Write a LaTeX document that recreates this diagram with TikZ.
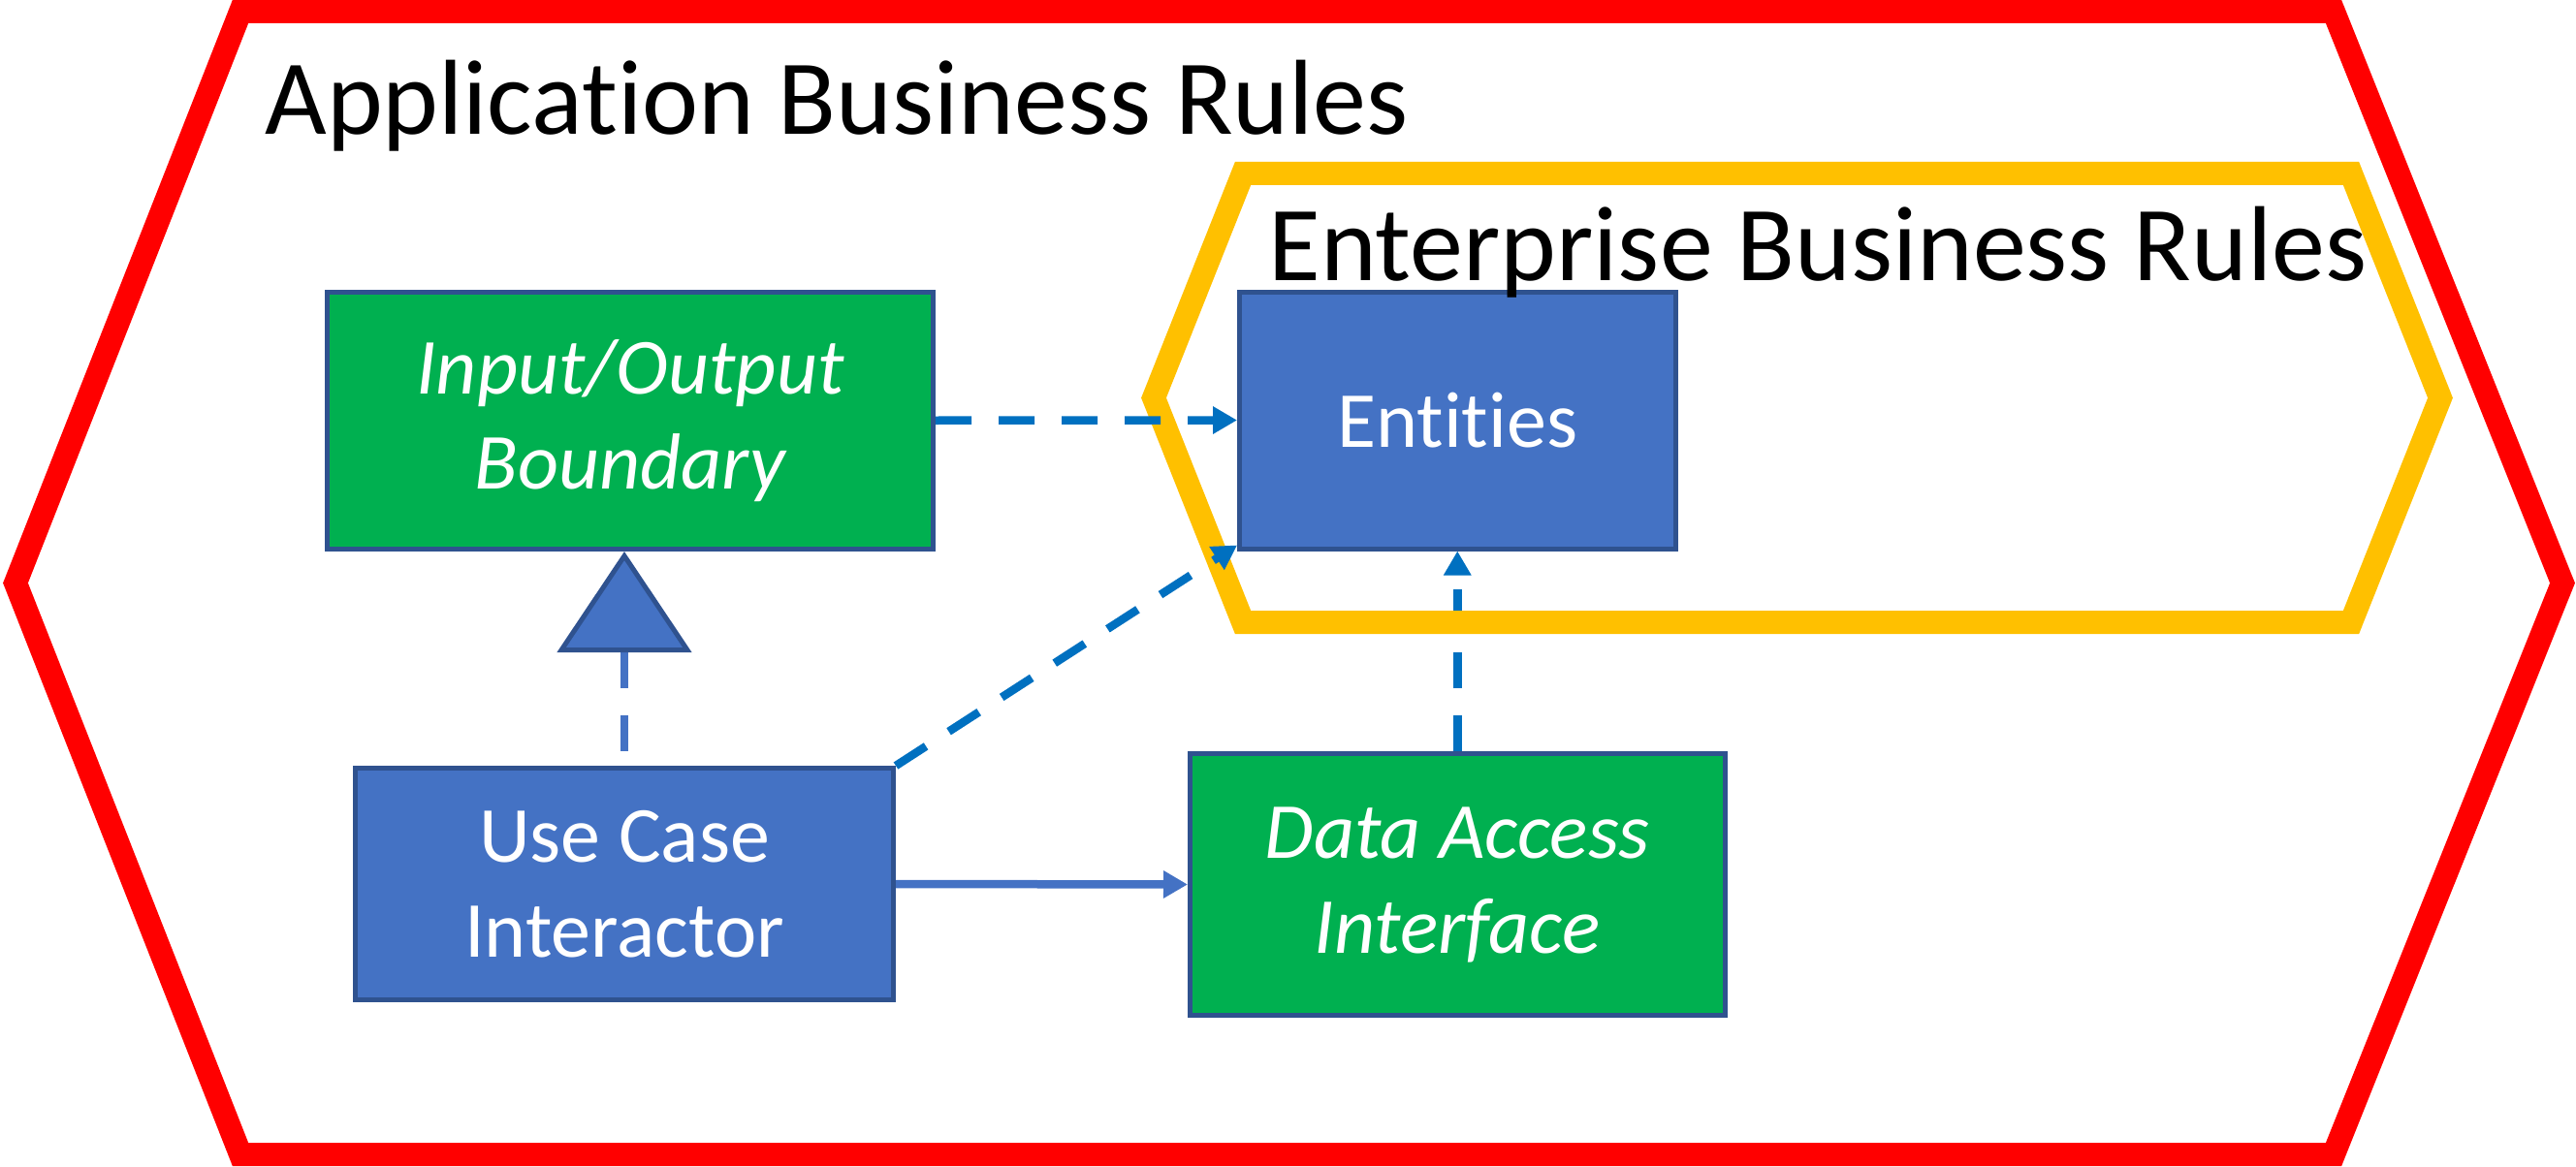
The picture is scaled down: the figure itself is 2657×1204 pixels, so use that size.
\documentclass[tikz,border=0pt]{standalone}
\usepackage{fontspec}
\setmainfont{Carlito}[Ligatures={NoCommon,NoContextual}]
\usetikzlibrary{arrows.meta}
\definecolor{hexred}{HTML}{FF0000}
\definecolor{hexyel}{HTML}{FFC000}
\definecolor{boxgreen}{HTML}{00B050}
\definecolor{boxblue}{HTML}{4472C4}
\definecolor{boxborder}{HTML}{2F528F}
\definecolor{arrblue}{HTML}{0070C0}
\begin{document}
\begin{tikzpicture}[x=0.5pt,y=-0.5pt,
  box/.style={draw=boxborder, line width=2.5pt, inner sep=0pt, align=center, text=white, font=\fontsize{41}{49}\selectfont},
  boxit/.style={box, font=\fontsize{41}{49}\selectfont\itshape},
  title/.style={anchor=base west, inner sep=0pt, text=black, font=\fontsize{55}{66}\selectfont},
  hexline/.style={line width=12pt, line join=miter},
  dasharrow/.style={draw=arrblue, line width=4.25pt, dash pattern=on 18.5pt off 14pt, -{Triangle[length=12.5pt,width=13.5pt]}},
  solidarrow/.style={draw=boxblue, line width=4.25pt, -{Triangle[length=12.5pt,width=13.5pt]}},
  genarrow/.style={draw=boxblue, line width=4.25pt, dash pattern=on 18.5pt off 14pt, dash phase=25pt, -{Triangle[length=52pt,width=69pt,fill=boxblue,color=boxborder,line width=2.5pt]}}
]
\useasboundingbox (0,0) rectangle (2657,1204);
% outer hexagon
\draw[hexline, hexred] (248,12) -- (2407,12) -- (2643,601.5) -- (2407,1191) -- (248,1191) -- (16,601.5) -- cycle;
% boxes
\node[boxit, fill=boxgreen, minimum width=312.5pt, minimum height=132.75pt] (io) at (650,433.75) {Input/Output\\Boundary};
\node[box, fill=boxblue, minimum width=224.75pt, minimum height=132.5pt] (ent) at (1503.25,433.5) {Entities};
\node[box, fill=boxblue, minimum width=277.5pt, minimum height=119.5pt] (uci) at (644,912) {Use Case\\Interactor};
\node[boxit, fill=boxgreen, minimum width=275.75pt, minimum height=135pt] (dai) at (1503.25,912.5) {Data Access\\Interface};
% connector under the yellow hexagon
\draw[dasharrow] (dai.north) -- (ent.south);
% inner hexagon
\draw[hexline, hexyel] (1282,179) -- (2425,179) -- (2517,410.5) -- (2425,642) -- (1282,642) -- (1190,410.5) -- cycle;
% titles
\node[title] (apptitle) at (273,138.5) {Application Business Rules};
\node[title] (enttitle) at (1308,289) {Enterprise Business Rules};
% connectors
\draw[dasharrow] (io.east) -- (ent.west);
\draw[dasharrow] (uci.north east) -- ([yshift=3pt]ent.south west);
\draw[solidarrow] (uci.east) -- (dai.west);
\draw[genarrow] (uci.north) -- (uci.north |- io.south);
\end{tikzpicture}
\end{document}
